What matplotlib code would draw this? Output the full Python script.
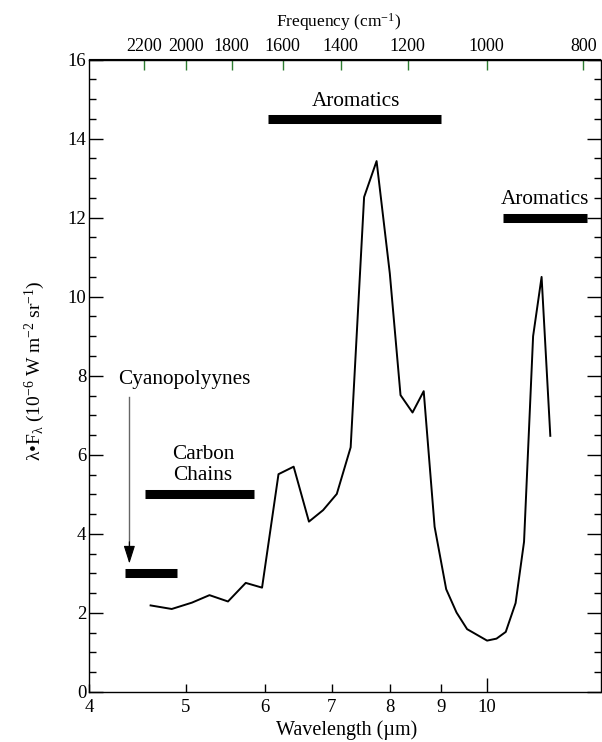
import numpy as np
import matplotlib
matplotlib.use("Agg")
import matplotlib.pyplot as plt

plt.rcParams['font.family'] = ['Liberation Serif', 'DejaVu Serif']
plt.rcParams['mathtext.fontset'] = 'custom'
plt.rcParams['mathtext.rm'] = 'Liberation Serif'
plt.rcParams['mathtext.it'] = 'Liberation Serif:italic'
plt.rcParams['mathtext.default'] = 'regular'

# spectrum
wavelength = [4.61, 4.84, 5.07, 5.28, 5.51, 5.74, 5.96, 6.19, 6.41, 6.64, 6.86, 7.08, 7.31,
              7.54, 7.76, 8.00, 8.20, 8.43, 8.65, 8.87, 9.11, 9.33, 9.56, 10.01,
              10.23, 10.45, 10.69, 10.90, 11.13, 11.35, 11.58]
flux = [2.19, 2.10, 2.26, 2.45, 2.29, 2.76, 2.64, 5.51, 5.70, 4.31, 4.60, 5.01, 6.19,
        12.52, 13.43, 10.59, 7.51, 7.07, 7.61, 4.18, 2.60, 2.01, 1.59, 1.30,
        1.35, 1.52, 2.25, 3.80, 9.00, 10.50, 6.48]

# band markers: (start, end, level)
band_names = ['Cyanopolyynes', 'Carbon\nChains', 'Aromatics', 'Aromatics']
band_start = [4.35, 4.55, 6.04, 10.39]
band_end = [4.90, 5.85, 9.00, 12.60]
band_level = [3.0, 5.0, 14.5, 12.0]

wl_ticks = [4, 5, 6, 7, 8, 9]
freq_ticks = [2200, 2000, 1800, 1600, 1400, 1200, 1000, 800]

fig = plt.figure(figsize=(6.02, 7.42), dpi=100)
ax = fig.add_axes([89 / 602, 1 - 692 / 742, (600.5 - 89) / 602, (692 - 59.5) / 742])

ax.plot(wavelength, flux, color='black', lw=1.4)

for s, e, lev in zip(band_start, band_end, band_level):
    ax.plot([s, e], [lev, lev], color='black', lw=6.5, solid_capstyle='butt')

fs_txt = 15.3
ax.text(4.98, 7.9, band_names[0], ha='center', va='center', fontsize=fs_txt)
ax.text(5.20, 5.75, band_names[1], ha='center', va='center', fontsize=fs_txt, linespacing=1.15)
ax.text(7.40, 14.95, band_names[2], ha='center', va='center', fontsize=fs_txt)
ax.text(11.45, 12.45, band_names[3], ha='center', va='center', fontsize=fs_txt)

# arrow: grey shaft, black head
ax.plot([4.39, 4.39], [7.47, 3.6], color='#666666', lw=1.0)
ax.annotate('', xy=(4.39, 3.25), xytext=(4.39, 3.8),
            arrowprops=dict(arrowstyle='-|>,head_length=1.1,head_width=0.35',
                            color='black', lw=0.8, shrinkA=0, shrinkB=0))

ax.set_xscale('log')
ax.set_xlim(4, 13)
ax.set_ylim(0, 16)

ax.set_xticks([10], labels=['10'])
ax.set_xticks(wl_ticks, labels=[str(t) for t in wl_ticks], minor=True)
ax.tick_params(axis='x', which='major', direction='in', length=10, width=1, pad=5, labelsize=13.5)
ax.tick_params(axis='x', which='minor', direction='in', length=6, width=1, pad=5, labelsize=13.5)

ax.set_yticks(np.arange(0, 17, 2))
ax.set_yticks(np.arange(0, 16.1, 0.5), minor=True)
ax.tick_params(axis='y', which='both', direction='in', right=True, labelsize=13.5, pad=2)
ax.tick_params(axis='y', which='major', length=10, width=1)
ax.tick_params(axis='y', which='minor', length=5, width=1)

for sp in ax.spines.values():
    sp.set_linewidth(1.0)

top = ax.secondary_xaxis('top', functions=(lambda x: 1e4 / x, lambda f: 1e4 / f))
top.set_xticks(freq_ticks, labels=[str(f) for f in freq_ticks])
top.set_xticks([], minor=True)
top.tick_params(axis='x', direction='in', length=8, width=1, color='#2e7d32', labelsize=13, pad=3)

fig.text(339 / 602, 1 - 22 / 742, r'Frequency (cm$^{-1}$)', ha='center', va='center', fontsize=12.5)
fig.text(347 / 602, 1 - 730 / 742, 'Wavelength (µm)', ha='center', va='center', fontsize=14.5)
fig.text(35 / 602, 1 - 371 / 742, r'$\lambda$•F$_{\lambda}$ (10$^{-6}$ W m$^{-2}$ sr$^{-1}$)',
         ha='center', va='center', rotation=90, fontsize=14)

fig.savefig('out.png', dpi=100)
